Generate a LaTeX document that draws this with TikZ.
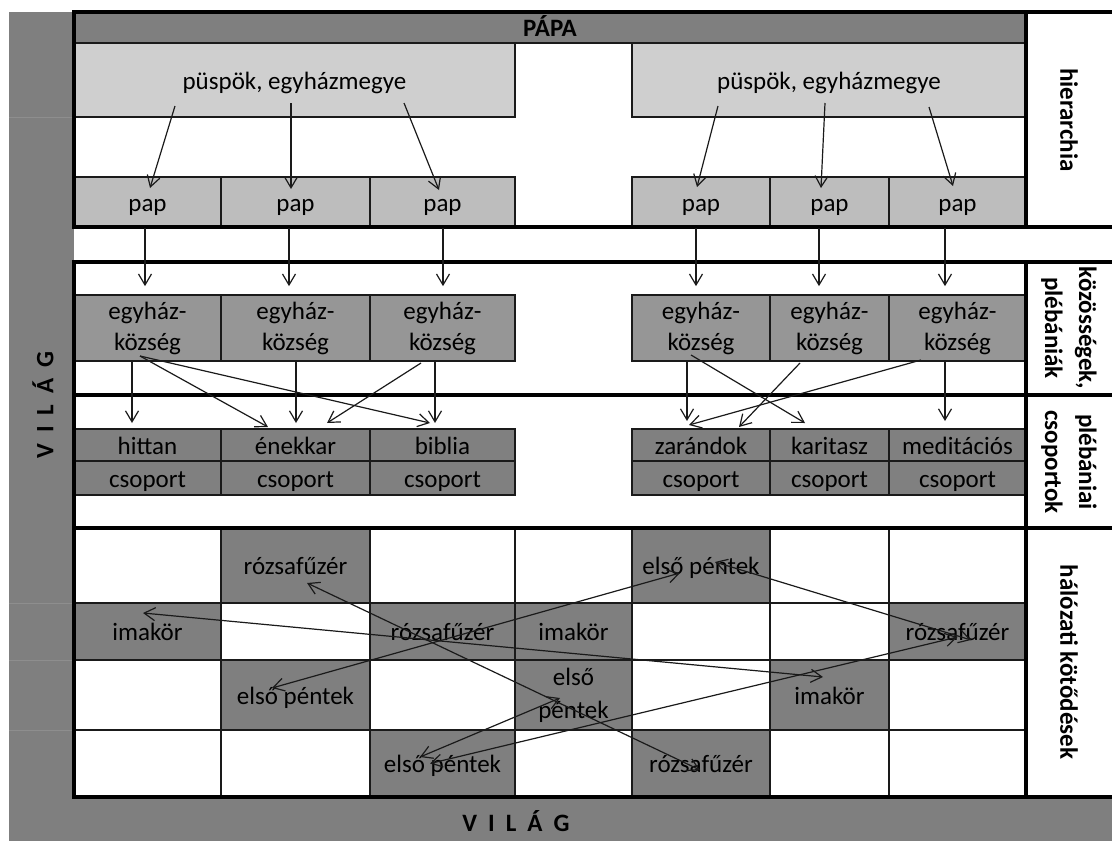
\documentclass[tikz,border=0pt]{standalone}
\usepackage{fontspec}
\setmainfont{Carlito}
\usetikzlibrary{arrows.meta}
\definecolor{gA}{HTML}{7F7F7F}
\definecolor{gB}{HTML}{CFCFCF}
\definecolor{gC}{HTML}{BDBDBD}
\definecolor{gD}{HTML}{969696}
\definecolor{gE}{HTML}{808080}
\definecolor{ink}{HTML}{1A1A1A}
\definecolor{stripline}{HTML}{8E8E8E}
\newcommand\mybox[7]{\node[#1, minimum width={(#5-#3)*1pt}, minimum height={(#6-#4)*1pt}] (#2) at ({(#3+#5)/2},{(#4+#6)/2}) {#7};}
\begin{document}
\begin{tikzpicture}[x=1pt,y=-1pt,
  every node/.style={font=\fontsize{25}{31}\selectfont, text=black},
  bx/.style={draw=ink, line width=1.7pt, inner sep=0pt, align=center},
  one/.style={text height=20pt, text depth=2pt},
  lbl/.style={font=\fontsize{25}{31}\selectfont\bfseries},
  side/.style={font=\fontsize{25}{34}\selectfont\bfseries, rotate=-90, align=center, inner sep=0pt},
  frame/.style={line width=3.6pt, draw=black},
  gridl/.style={line width=1.8pt, draw=ink},
  arr/.style={draw=ink, line width=1.2pt, -{Straight Barb[length=11pt,width=13pt]}},
  darr/.style={draw=ink, line width=1.2pt, {Straight Barb[length=11pt,width=13pt]}-{Straight Barb[length=11pt,width=13pt]}},
]
\useasboundingbox (0,0) rectangle (1112,841);
% world band
\fill[gA] (9,12) rectangle (74,841);
\fill[gA] (9,797) rectangle (1112,841);
\foreach \yy in {117,603,660,730} \draw[stripline,line width=1pt] (9,\yy) -- (72,\yy);
% hierarchy
\mybox{bx,one,fill=gA,lbl}{papa}{74}{12}{1026}{43}{PÁPA}
\mybox{bx,one,fill=gB}{puspL}{74}{43}{515}{117}{püspök, egyházmegye}
\mybox{bx,one,fill=gB}{puspR}{632}{43}{1026}{117}{püspök, egyházmegye}
\mybox{bx,one,fill=gC}{pap1}{74}{177}{221}{227}{pap}
\mybox{bx,one,fill=gC}{pap2}{221}{177}{370}{227}{pap}
\mybox{bx,one,fill=gC}{pap3}{370}{177}{515}{227}{pap}
\mybox{bx,one,fill=gC}{pap4}{632}{177}{770}{227}{pap}
\mybox{bx,one,fill=gC}{pap5}{770}{177}{889}{227}{pap}
\mybox{bx,one,fill=gC}{pap6}{889}{177}{1026}{227}{pap}
% parishes
\mybox{bx,fill=gD}{egy1}{74}{295}{221}{361}{egyház-\\község}
\mybox{bx,fill=gD}{egy2}{221}{295}{370}{361}{egyház-\\község}
\mybox{bx,fill=gD}{egy3}{370}{295}{515}{361}{egyház-\\község}
\mybox{bx,fill=gD}{egy4}{632}{295}{770}{361}{egyház-\\község}
\mybox{bx,fill=gD}{egy5}{770}{295}{889}{361}{egyház-\\község}
\mybox{bx,fill=gD}{egy6}{889}{295}{1026}{361}{egyház-\\község}
% groups
\mybox{bx,one,fill=gE}{hit1}{74}{429}{221}{461}{hittan}
\mybox{bx,one,fill=gE}{hit2}{221}{429}{370}{461}{énekkar}
\mybox{bx,one,fill=gE}{hit3}{370}{429}{515}{461}{biblia}
\mybox{bx,one,fill=gE}{hit4}{632}{429}{770}{461}{zarándok}
\mybox{bx,one,fill=gE}{hit5}{770}{429}{889}{461}{karitasz}
\mybox{bx,one,fill=gE}{hit6}{889}{429}{1026}{461}{meditációs}
\mybox{bx,one,fill=gE}{cs1}{74}{461}{221}{495}{csoport}
\mybox{bx,one,fill=gE}{cs2}{221}{461}{370}{495}{csoport}
\mybox{bx,one,fill=gE}{cs3}{370}{461}{515}{495}{csoport}
\mybox{bx,one,fill=gE}{cs4}{632}{461}{770}{495}{csoport}
\mybox{bx,one,fill=gE}{cs5}{770}{461}{889}{495}{csoport}
\mybox{bx,one,fill=gE}{cs6}{889}{461}{1026}{495}{csoport}
% network cells
\mybox{bx,one,fill=gA}{r1c2}{221}{528}{370}{603}{rózsafűzér}
\mybox{bx,one,fill=gA}{r1c5}{632}{528}{770}{603}{első péntek}
\mybox{bx,one,fill=gA}{r2c1}{74}{603}{221}{660}{imakör}
\mybox{bx,one,fill=gA}{r2c3}{370}{603}{515}{660}{rózsafűzér}
\mybox{bx,one,fill=gA}{r2c4}{515}{603}{632}{660}{imakör}
\mybox{bx,one,fill=gA}{r2c7}{889}{603}{1026}{660}{rózsafűzér}
\mybox{bx,one,fill=gA}{r3c2}{221}{660}{370}{730}{első péntek}
\mybox{bx,fill=gA,font=\fontsize{25}{33}\selectfont}{r3c4}{515}{660}{632}{730}{első\\péntek}
\mybox{bx,one,fill=gA}{r3c6}{770}{660}{889}{730}{imakör}
\mybox{bx,one,fill=gA}{r4c3}{370}{730}{515}{797}{első péntek}
\mybox{bx,one,fill=gA}{r4c5}{632}{730}{770}{797}{rózsafűzér}
\foreach \yy in {603,660,730} \draw[gridl] (74,\yy) -- (1026,\yy);
\foreach \xx in {221,370,515,632,770,889} \draw[gridl] (\xx,528) -- (\xx,797);
% frame
\draw[frame] (1112,12) -- (74,12) -- (74,227) -- (1112,227);
\draw[frame] (1026,12) -- (1026,227);
\draw[frame] (1112,262) -- (74,262) -- (74,797) -- (1112,797);
\draw[frame] (74,395) -- (1112,395);
\draw[frame] (74,528) -- (1112,528);
\draw[frame] (1026,262) -- (1026,797);
% side labels
\node[side] (lh) at (1069,120) {hierarchia};
\node[side] (lk) at (1069,328) {közösségek,\\plébániák};
\node[side] (lp) at (1069,462) {plébániai\\csoportok};
\node[side] (lz) at (1069,662) {hálózati kötődések};
\node[lbl,rotate=90] (vilagv) at (43,405) {V\hspace{11pt}I\hspace{11pt}L\hspace{11pt}Á\hspace{11pt}G};
\node[lbl] (vilagh) at (516,821) {V\hspace{11pt}I\hspace{11pt}L\hspace{11pt}Á\hspace{11pt}G};
% bishop -> priest
\draw[arr] ([shift={(-119.5,26)}]puspL.center) -- ([shift={(2.5,-14)}]pap1.center);
\draw[arr] ([shift={(-3.5,23)}]puspL.center) -- ([shift={(-4.5,-13)}]pap2.center);
\draw[arr] ([shift={(109.5,23)}]puspL.center) -- ([shift={(-3.5,-12)}]pap3.center);
\draw[arr] ([shift={(-111,26)}]puspR.center) -- ([shift={(-4,-15)}]pap4.center);
\draw[arr] ([shift={(-4,23)}]puspR.center) -- ([shift={(-8.5,-14)}]pap5.center);
\draw[arr] ([shift={(100,27)}]puspR.center) -- ([shift={(-4.5,-16)}]pap6.center);
% priest -> parish
\draw[arr] ([shift={(-2.5,0)}]pap1.south) -- ([shift={(-2.5,-8)}]egy1.north);
\draw[arr] ([shift={(-6.5,0)}]pap2.south) -- ([shift={(-6.5,-8)}]egy2.north);
\draw[arr] ([shift={(0.5,0)}]pap3.south) -- ([shift={(0.5,-8)}]egy3.north);
\draw[arr] ([shift={(-5,0)}]pap4.south) -- ([shift={(-5,-8)}]egy4.north);
\draw[arr] ([shift={(-10.5,0)}]pap5.south) -- ([shift={(-10.5,-8)}]egy5.north);
\draw[arr] ([shift={(-12.5,0)}]pap6.south) -- ([shift={(-12.5,-8)}]egy6.north);
% parish -> groups
\draw[arr] ([shift={(-15.5,0)}]egy1.south) -- ([shift={(-15.5,-22)}]hit1.center);
\draw[arr] ([shift={(-7.5,28)}]egy1.center) -- ([shift={(-27.5,-18)}]hit2.center);
\draw[arr] ([shift={(-7.5,28)}]egy1.center) -- ([shift={(-12.5,-22)}]hit3.center);
\draw[arr] ([shift={(0.5,0)}]egy2.south) -- ([shift={(0.5,-22)}]hit2.center);
\draw[arr] ([shift={(-21.5,35)}]egy3.center) -- ([shift={(31.5,-22)}]hit2.center);
\draw[arr] ([shift={(-7.5,0)}]egy3.south) -- ([shift={(-7.5,-22)}]hit3.center);
\draw[arr] ([shift={(-14,0)}]egy4.south) -- ([shift={(-14,-24)}]hit4.center);
\draw[arr] ([shift={(-10,27)}]egy4.center) -- ([shift={(-24.5,-22)}]hit5.center);
\draw[arr] ([shift={(-29.5,35)}]egy5.center) -- ([shift={(38,-18)}]hit4.center);
\draw[arr] ([shift={(-36.5,32)}]egy6.center) -- ([shift={(-12,-20)}]hit4.center);
\draw[arr] ([shift={(-12.5,0)}]egy6.south) -- ([shift={(-12.5,-24)}]hit6.center);
% network ties
\draw[darr] ([shift={(11.5,17.5)}]r1c2.center) -- ([shift={(-1,6.5)}]r4c5.center);
\draw[darr] ([shift={(-4.5,-18.5)}]r2c1.center) -- ([shift={(-6.5,-18)}]r3c6.center);
\draw[darr] ([shift={(-23.5,-7)}]r3c2.center) -- ([shift={(-21,7.5)}]r1c5.center);
\draw[darr] ([shift={(-22.5,-6.5)}]r4c3.center) -- ([shift={(-13.5,3)}]r3c4.center);
\draw[darr] ([shift={(-12.5,0)}]r4c3.center) -- ([shift={(0,5.5)}]r2c7.center);
\draw[darr] ([shift={(14,-3.5)}]r1c5.center) -- ([shift={(13.5,8.5)}]r2c7.center);
\end{tikzpicture}
\end{document}
